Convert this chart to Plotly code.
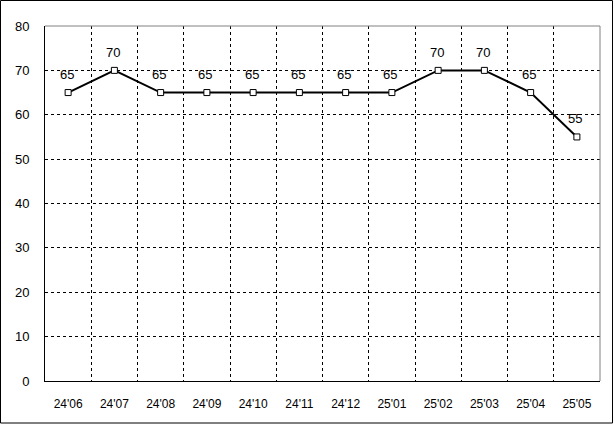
import plotly.graph_objects as go

months = ["24'06", "24'07", "24'08", "24'09", "24'10", "24'11", "24'12",
          "25'01", "25'02", "25'03", "25'04", "25'05"]
values = [65, 70, 65, 65, 65, 65, 65, 65, 70, 70, 65, 55]
y_ticks = [0, 10, 20, 30, 40, 50, 60, 70, 80]

FONT = "Liberation Sans, Arial, sans-serif"

fig = go.Figure()
fig.add_trace(go.Scatter(
    x=months, y=values, mode="lines+markers",
    line=dict(color="black", width=2),
    marker=dict(symbol="square", size=6, color="white",
                line=dict(color="black", width=1)),
    hoverinfo="skip", showlegend=False,
))

for m, v in zip(months, values):
    fig.add_annotation(x=m, y=v, text=str(v), showarrow=False,
                       yshift=18, xshift=-1.5,
                       font=dict(family=FONT, size=13, color="black"))

fig.update_xaxes(
    type="category", tickson="boundaries", showgrid=True,
    gridcolor="black", griddash="3px,3px", gridwidth=1,
    showline=True, linecolor="black", linewidth=1,
    ticks="", ticklabelstandoff=12, automargin=False,
    tickfont=dict(family=FONT, size=12, color="black"),
    range=[-0.5, 11.5], zeroline=False,
)
fig.update_yaxes(
    range=[0, 80], tickvals=y_ticks, showgrid=True,
    gridcolor="black", griddash="3px,3px", gridwidth=1,
    showline=True, linecolor="black", linewidth=1,
    ticks="", ticklabelstandoff=12, zeroline=False, automargin=False,
    tickfont=dict(family=FONT, size=13, color="black"),
)

# gray top/right frame of plot area
fig.add_shape(type="line", xref="paper", yref="paper", x0=0, x1=1, y0=1, y1=1,
              line=dict(color="#808080", width=1), layer="above")
fig.add_shape(type="line", xref="paper", yref="paper", x0=1, x1=1, y0=0, y1=1,
              line=dict(color="#808080", width=1), layer="above")
# outer figure border
fig.add_shape(type="rect", xref="paper", yref="paper",
              x0=(0.5 - 45) / 555, x1=(612.5 - 45) / 555,
              y0=(381 - 423) / 355, y1=(381 - 0.5) / 355,
              line=dict(color="black", width=1), layer="above")

fig.update_layout(
    width=615, height=424,
    margin=dict(l=45, r=15, t=26, b=43, autoexpand=False),
    paper_bgcolor="white", plot_bgcolor="white",
    font=dict(family=FONT, color="black"),
)

fig.write_html("out.html", config={"displayModeBar": False},
               post_script="document.body.style.margin='0';document.body.style.overflow='hidden';")
